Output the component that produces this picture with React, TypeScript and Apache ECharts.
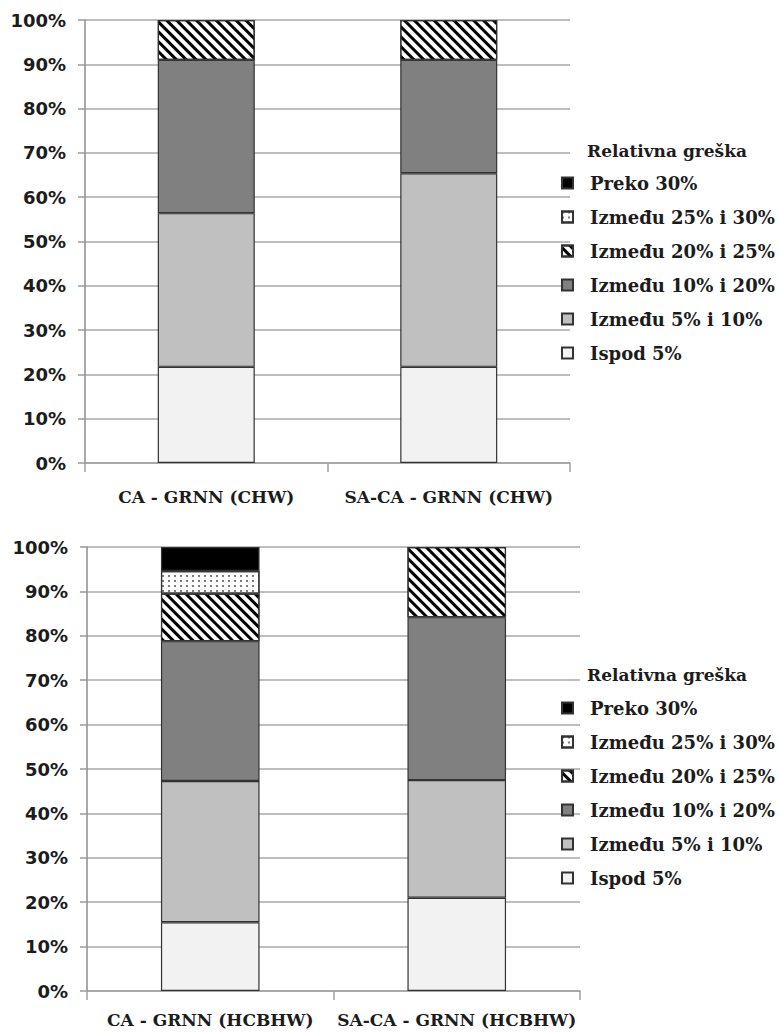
import React, { useEffect, useRef } from "react";
import * as echarts from "echarts";

const categoriesTop = ["CA - GRNN (CHW)", "SA-CA - GRNN (CHW)"];
const categoriesBottom = ["CA - GRNN (HCBHW)", "SA-CA - GRNN (HCBHW)"];
const seriesNames = [
  "Ispod 5%",
  "Između 5% i 10%",
  "Između 10% i 20%",
  "Između 20% i 25%",
  "Između 25% i 30%",
  "Preko 30%",
];
const legendOrder = [...seriesNames].reverse();
const legendTitle = "Relativna greška";
const yTicks = [0, 10, 20, 30, 40, 50, 60, 70, 80, 90, 100];

// top chart values (%)
const topIspod5 = [21.7, 21.7];
const top5to10 = [34.7, 43.7];
const top10to20 = [34.6, 25.6];
const top20to25 = [9.0, 9.0];
const top25to30 = [0, 0];
const topPreko30 = [0, 0];

// bottom chart values (%)
const botIspod5 = [15.5, 21.0];
const bot5to10 = [31.8, 26.5];
const bot10to20 = [31.5, 36.7];
const bot20to25 = [10.7, 15.8];
const bot25to30 = [5.1, 0];
const botPreko30 = [5.4, 0];

const topData = [topIspod5, top5to10, top10to20, top20to25, top25to30, topPreko30];
const botData = [botIspod5, bot5to10, bot10to20, bot20to25, bot25to30, botPreko30];

const serif = "DejaVu Serif";
const sans = "DejaVu Sans";

const styles: any[] = [
  { color: "#f2f2f2" },
  { color: "#c0c0c0" },
  { color: "#808080" },
  {
    color: "#ffffff",
    decal: {
      symbol: "rect",
      symbolSize: 1,
      color: "#000000",
      backgroundColor: "#ffffff",
      dashArrayX: [1, 0],
      dashArrayY: [3, 3.4],
      rotation: Math.PI / 4,
    },
  },
  {
    color: "#ffffff",
    decal: {
      symbol: "circle",
      symbolSize: 0.8,
      color: "#333333",
      backgroundColor: "#ffffff",
      dashArrayX: [1.6, 4],
      dashArrayY: [1.6, 3],
      rotation: 0,
    },
  },
  { color: "#000000" },
];

export default function App() {
  const ref = useRef<HTMLDivElement>(null);
  useEffect(() => {
    if (!ref.current) return;
    const chart = echarts.init(ref.current, null, { renderer: "svg" });

    const yAxisBase = (gridIndex: number) => ({
      type: "value",
      gridIndex,
      min: 0,
      max: 100,
      interval: 10,
      axisLine: { show: true, lineStyle: { color: "#8c8c8c", width: 1.5 } },
      axisTick: { show: true, length: 7, lineStyle: { color: "#9a9a9a", width: 1.5 } },
      splitLine: { show: true, lineStyle: { color: "#a8a8a8", width: 1.5 } },
      axisLabel: {
        formatter: (v: number) => (yTicks.includes(v) ? v + "%" : ""),
        fontFamily: sans,
        fontWeight: "bold",
        fontSize: 18,
        color: "#1c1c1c",
        margin: 19,
      },
    });

    const xAxisBase = (gridIndex: number, data: string[], margin: number) => ({
      type: "category",
      gridIndex,
      data,
      axisLine: { show: true, lineStyle: { color: "#a0a0a0", width: 1.5 } },
      axisTick: { show: true, length: 9, alignWithLabel: false, lineStyle: { color: "#a0a0a0", width: 1.5 } },
      axisLabel: {
        fontFamily: serif,
        fontWeight: "bold",
        fontSize: 17,
        color: "#1c1c1c",
        margin,
        interval: 0,
      },
    });

    const mkSeries = (data: number[][], idx: number, stack: string) =>
      seriesNames.map((name, i) => ({
        name,
        type: "bar",
        stack,
        xAxisIndex: idx,
        yAxisIndex: idx,
        barWidth: "40%",
        data: data[i].map((v) => (v === 0 ? "-" : v)),
        itemStyle: { ...styles[i], borderColor: "#333333", borderWidth: 1.2 },
        emphasis: { disabled: true },
      }));

    const legendBase = (top: number) => ({
      orient: "vertical",
      left: 561,
      top,
      padding: 0,
      data: legendOrder,
      icon: "rect",
      itemWidth: 11,
      itemHeight: 11,
      itemGap: 14,
      selectedMode: false,
      textStyle: {
        fontFamily: serif,
        fontWeight: "bold",
        fontSize: 18,
        lineHeight: 20,
        color: "#1c1c1c",
        padding: [0, 0, 0, 12],
      },
    });

    chart.setOption({
      animation: false,
      grid: [
        { left: 85, top: 20, width: 485, height: 443, containLabel: false },
        { left: 87, top: 547, width: 493, height: 444, containLabel: false },
      ],
      xAxis: [xAxisBase(0, categoriesTop, 25), xAxisBase(1, categoriesBottom, 20)],
      yAxis: [yAxisBase(0), yAxisBase(1)],
      legend: [legendBase(173), legendBase(698)],
      graphic: [
        {
          type: "text",
          left: 587,
          top: 142,
          style: { text: legendTitle, font: `bold 17px "${serif}"`, fill: "#1c1c1c" },
        },
        {
          type: "text",
          left: 587,
          top: 666,
          style: { text: legendTitle, font: `bold 17px "${serif}"`, fill: "#1c1c1c" },
        },
      ],
      series: [...mkSeries(topData, 0, "top"), ...mkSeries(botData, 1, "bottom")],
    });

    return () => chart.dispose();
  }, []);

  return (
    <div
      ref={ref}
      style={{ position: "absolute", left: 0, top: 0, width: 779, height: 1032, background: "#fff" }}
    />
  );
}
